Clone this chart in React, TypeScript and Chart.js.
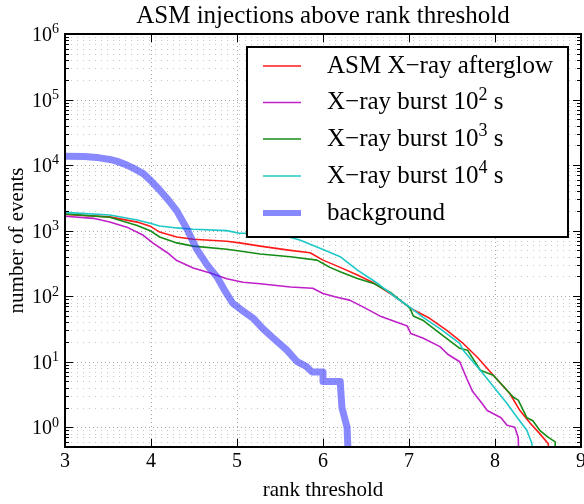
import React, { useEffect, useRef } from 'react';
import { Chart, registerables } from 'chart.js';

Chart.register(...registerables);

const TITLE = 'ASM injections above rank threshold';
const X_LABEL = 'rank threshold';
const Y_LABEL = 'number of events';
const X_TICKS = [3, 4, 5, 6, 7, 8, 9];
const Y_TICK_EXPONENTS = [0, 1, 2, 3, 4, 5, 6];
const X_MIN = 3;
const X_MAX = 9;
const Y_MIN = 0.5;
const Y_MAX = 1e6;

const SERIES_LABELS = [
  'ASM X−ray afterglow',
  'X−ray burst 10² s',
  'X−ray burst 10³ s',
  'X−ray burst 10⁴ s',
  'background',
];
const SERIES_COLORS = ['#ff1a1a', '#c020c8', '#168c16', '#1ec8c8', 'rgba(40,40,255,0.55)'];

const redX = [3.0, 3.52, 3.84, 3.99, 4.1, 4.3, 4.49, 4.88, 5.03, 5.27, 5.62, 5.85, 6.0, 6.2, 6.4, 6.58, 6.78, 7.05, 7.24, 7.44, 7.63, 7.8, 7.98, 8.17, 8.29, 8.41, 8.52, 8.62, 8.63];
const redY = [1760, 1620, 1350, 1170, 950, 800, 740, 690, 650, 580, 500, 460, 355, 275, 210, 162, 110, 62, 46, 30, 19, 11.5, 6.2, 3.3, 1.8, 1.15, 0.8, 0.56, 0.1];

const magX = [3.0, 3.33, 3.52, 3.72, 3.91, 4.02, 4.19, 4.3, 4.49, 4.69, 4.88, 5.07, 5.27, 5.62, 5.88, 6.0, 6.16, 6.31, 6.47, 6.66, 6.86, 6.98, 7.02, 7.16, 7.36, 7.45, 7.59, 7.67, 7.74, 7.83, 7.91, 8.07, 8.14, 8.23, 8.27, 8.29];
const magY = [1660, 1540, 1350, 1130, 850, 650, 460, 350, 270, 225, 185, 163, 155, 138, 132, 110, 96, 87, 68, 50, 40, 35, 27, 23, 17, 13, 10, 5.6, 3.5, 2.5, 1.8, 1.4, 1.07, 1.0, 0.7, 0.1];

const greenX = [3.0, 3.52, 3.84, 3.99, 4.1, 4.3, 4.49, 4.88, 5.03, 5.27, 5.62, 5.93, 6.0, 6.08, 6.2, 6.4, 6.58, 6.78, 6.98, 7.01, 7.05, 7.16, 7.36, 7.59, 7.68, 7.83, 7.98, 8.21, 8.27, 8.37, 8.44, 8.52, 8.62, 8.7, 8.71];
const greenY = [1800, 1600, 1200, 1000, 800, 650, 580, 520, 490, 440, 400, 355, 316, 275, 235, 186, 158, 115, 71, 66, 50, 43, 27, 16, 15, 7.4, 6.2, 2.9, 2.6, 1.4, 1.26, 0.9, 0.7, 0.6, 0.1];

const cyanX = [3.0, 3.52, 3.84, 3.99, 4.1, 4.3, 4.49, 4.88, 5.03, 5.12, 5.53, 5.73, 6.0, 6.2, 6.4, 6.58, 6.66, 6.86, 7.01, 7.16, 7.36, 7.59, 7.63, 7.86, 8.02, 8.14, 8.26, 8.37, 8.43, 8.44];
const cyanY = [1900, 1730, 1450, 1300, 1180, 1100, 1050, 1000, 910, 910, 850, 720, 515, 400, 250, 175, 148, 93, 68, 48, 32, 19, 15, 6.6, 3.6, 2.3, 1.4, 0.9, 0.56, 0.1];

const bgX = [3.0, 3.23, 3.4, 3.52, 3.6, 3.72, 3.8, 3.91, 4.0, 4.1, 4.2, 4.3, 4.42, 4.53, 4.66, 4.77, 4.86, 4.95, 5.05, 5.19, 5.3, 5.42, 5.58, 5.7, 5.81, 5.87, 6.0, 6.0, 6.2, 6.22, 6.28, 6.31];
const bgY = [13700, 13500, 12900, 12200, 11500, 10000, 8900, 7400, 5750, 4170, 2950, 2000, 1050, 525, 290, 195, 120, 78, 62, 46, 32, 23, 15, 10, 8.4, 7, 7, 5, 5, 2, 1, 0.1];

const SERIES_X = [redX, magX, greenX, cyanX, bgX];
const SERIES_Y = [redY, magY, greenY, cyanY, bgY];
const SERIES_WIDTH = [1.6, 1.6, 1.6, 1.6, 7];
const LEGEND_WIDTH = [1.6, 1.6, 1.6, 1.6, 6];

const FONT = '"Liberation Serif", "DejaVu Serif", serif';
const SUP = '⁰¹²³⁴⁵⁶⁷⁸⁹';

function drawRich(ctx: CanvasRenderingContext2D, text: string, x: number, y: number, size: number, align: 'left' | 'right' | 'center') {
  const runs: { t: string; sup: boolean; w: number }[] = [];
  for (const ch of text) {
    const i = SUP.indexOf(ch);
    const sup = i >= 0;
    const c = sup ? String(i) : ch;
    if (runs.length && runs[runs.length - 1].sup === sup) runs[runs.length - 1].t += c;
    else runs.push({ t: c, sup, w: 0 });
  }
  let total = 0;
  for (const r of runs) {
    ctx.font = `${r.sup ? Math.round(size * 0.7) : size}px ${FONT}`;
    r.w = ctx.measureText(r.t).width;
    total += r.w;
  }
  let cx = align === 'right' ? x - total : align === 'center' ? x - total / 2 : x;
  ctx.textAlign = 'left';
  ctx.textBaseline = 'alphabetic';
  for (const r of runs) {
    ctx.font = `${r.sup ? Math.round(size * 0.7) : size}px ${FONT}`;
    ctx.fillText(r.t, cx, r.sup ? y - size * 0.38 : y);
    cx += r.w;
  }
}

function minorValues(): number[] {
  const out: number[] = [];
  for (let e = -1; e <= 5; e++) {
    for (let m = 2; m <= 9; m++) {
      const v = m * Math.pow(10, e);
      if (v >= Y_MIN && v <= Y_MAX) out.push(v);
    }
  }
  return out;
}

const decorPlugin = {
  id: 'decor',
  beforeDatasetsDraw(chart: any) {
    const { ctx, chartArea: a, scales } = chart;
    const xs = scales.x;
    const ys = scales.y;
    ctx.save();
    ctx.lineWidth = 1;
    ctx.strokeStyle = '#c8c8c8';
    ctx.setLineDash([1, 5]);
    for (const v of minorValues()) {
      const py = Math.round(ys.getPixelForValue(v)) + 0.5;
      ctx.beginPath();
      ctx.moveTo(a.left, py);
      ctx.lineTo(a.right, py);
      ctx.stroke();
    }
    ctx.strokeStyle = '#a8a8a8';
    ctx.setLineDash([1, 3]);
    for (const e of Y_TICK_EXPONENTS) {
      const py = Math.round(ys.getPixelForValue(Math.pow(10, e))) + 0.5;
      ctx.beginPath();
      ctx.moveTo(a.left, py);
      ctx.lineTo(a.right, py);
      ctx.stroke();
    }
    for (const t of X_TICKS) {
      const px = Math.round(xs.getPixelForValue(t)) + 0.5;
      ctx.beginPath();
      ctx.moveTo(px, a.top);
      ctx.lineTo(px, a.bottom);
      ctx.stroke();
    }
    ctx.restore();
  },
  afterDatasetsDraw(chart: any) {
    const { ctx, chartArea: a, scales } = chart;
    const xs = scales.x;
    const ys = scales.y;
    ctx.save();
    ctx.setLineDash([]);
    ctx.strokeStyle = '#000';
    ctx.fillStyle = '#000';
    ctx.lineWidth = 1;
    for (const v of minorValues()) {
      const py = Math.round(ys.getPixelForValue(v)) + 0.5;
      ctx.beginPath();
      ctx.moveTo(a.left, py);
      ctx.lineTo(a.left + 4, py);
      ctx.moveTo(a.right, py);
      ctx.lineTo(a.right - 4, py);
      ctx.stroke();
    }
    for (const e of Y_TICK_EXPONENTS) {
      const py = Math.round(ys.getPixelForValue(Math.pow(10, e))) + 0.5;
      ctx.beginPath();
      ctx.moveTo(a.left, py);
      ctx.lineTo(a.left + 8, py);
      ctx.moveTo(a.right, py);
      ctx.lineTo(a.right - 8, py);
      ctx.stroke();
    }
    for (const t of X_TICKS) {
      const px = Math.round(xs.getPixelForValue(t)) + 0.5;
      ctx.beginPath();
      ctx.moveTo(px, a.bottom);
      ctx.lineTo(px, a.bottom - 8);
      ctx.moveTo(px, a.top);
      ctx.lineTo(px, a.top + 8);
      ctx.stroke();
    }
    ctx.lineWidth = 2;
    ctx.strokeRect(a.left, a.top, a.right - a.left, a.bottom - a.top);

    for (const t of X_TICKS) {
      drawRich(ctx, String(t), xs.getPixelForValue(t), a.bottom + 20, 20, 'center');
    }
    for (const e of Y_TICK_EXPONENTS) {
      drawRich(ctx, '10' + SUP[e], a.left - 6, ys.getPixelForValue(Math.pow(10, e)) + 7, 20, 'right');
    }
    drawRich(ctx, X_LABEL, (a.left + a.right) / 2, 496, 21, 'center');
    ctx.save();
    ctx.translate(23, (a.top + a.bottom) / 2);
    ctx.rotate(-Math.PI / 2);
    drawRich(ctx, Y_LABEL, 0, 0, 21, 'center');
    ctx.restore();
    drawRich(ctx, TITLE, (a.left + a.right) / 2, 23, 25, 'center');

    const lx = 247, ly = 47, lw = 321, lh = 190;
    ctx.fillStyle = '#fff';
    ctx.fillRect(lx, ly, lw, lh);
    ctx.lineWidth = 2;
    ctx.strokeStyle = '#000';
    ctx.strokeRect(lx, ly, lw, lh);
    const rows = [66, 102.5, 139, 176, 213];
    SERIES_LABELS.forEach((lab, i) => {
      const ry = rows[i];
      ctx.strokeStyle = SERIES_COLORS[i];
      ctx.lineWidth = LEGEND_WIDTH[i];
      ctx.beginPath();
      ctx.moveTo(263, ry);
      ctx.lineTo(301, ry);
      ctx.stroke();
      ctx.fillStyle = '#000';
      drawRich(ctx, lab, 327, ry + 6.5, 25, 'left');
    });
    ctx.restore();
  },
};

export default function App() {
  const ref = useRef<HTMLCanvasElement | null>(null);
  useEffect(() => {
    document.body.style.margin = '0';
    const canvas = ref.current;
    if (!canvas) return;
    const datasets = SERIES_LABELS.map((label, i) => ({
      label,
      data: SERIES_X[i].map((x, j) => ({ x, y: SERIES_Y[i][j] })),
      borderColor: SERIES_COLORS[i],
      backgroundColor: SERIES_COLORS[i],
      borderWidth: SERIES_WIDTH[i],
      pointRadius: 0,
      tension: 0,
      fill: false,
      clip: 0,
      borderJoinStyle: 'round' as const,
      order: SERIES_LABELS.length - i,
    }));
    const chart = new Chart(canvas, {
      type: 'line',
      data: { datasets },
      options: {
        animation: false,
        responsive: false,
        devicePixelRatio: 1,
        layout: { padding: { left: 65, top: 34, right: 3, bottom: 57 } },
        plugins: { legend: { display: false }, tooltip: { enabled: false }, title: { display: false } },
        scales: {
          x: { type: 'linear', min: X_MIN, max: X_MAX, display: false },
          y: { type: 'logarithmic', min: Y_MIN, max: Y_MAX, display: false },
        },
      },
      plugins: [decorPlugin],
    });
    return () => chart.destroy();
  }, []);
  return <canvas ref={ref} width={584} height={504} style={{ display: 'block' }} />;
}
